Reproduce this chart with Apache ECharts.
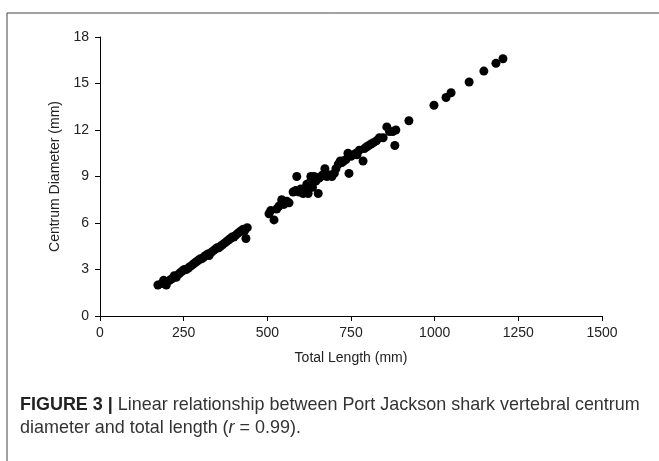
<!DOCTYPE html>
<html><head><meta charset="utf-8">
<script src="https://cdn.jsdelivr.net/npm/echarts@6/dist/echarts.min.js"></script>
<style>html,body{margin:0;padding:0;background:#fff}#c{width:659px;height:461px}</style>
</head><body><div id="c"></div>
<script>
const xTicks = [0, 250, 500, 750, 1000, 1250, 1500];
const yTicks = [0, 3, 6, 9, 12, 15, 18];
const totalLength = [
173,185,190,198,200,208,215,222,228,235,240,246,252,258,264,270,276,282,288,294,300,305,310,316,322,326,332,338,344,350,355,360,366,372,378,384,390,395,400,405,410,416,422,428,432,436,440,
505,510,520,528,535,543,550,558,565,577,585,588,595,600,607,612,618,622,627,630,635,640,645,652,655,660,665,672,678,685,693,700,705,712,718,723,728,735,741,744,750,757,765,768,775,786,790,796,803,810,818,826,835,846,857,865,875,881,884,
923,998,1034,1049,1103,1147,1183,1204];
const centrumDiameter = [
2.0,2.1,2.3,2.0,2.2,2.3,2.4,2.6,2.5,2.7,2.8,2.9,3.0,3.0,3.1,3.2,3.3,3.4,3.5,3.6,3.7,3.7,3.8,3.9,4.0,3.9,4.1,4.2,4.3,4.4,4.4,4.5,4.6,4.7,4.8,4.9,5.0,5.1,5.1,5.2,5.3,5.4,5.5,5.6,5.5,5.0,5.7,
6.6,6.8,6.2,6.9,7.1,7.5,7.2,7.4,7.3,8.0,8.1,9.0,8.0,8.2,7.9,8.2,8.5,7.9,8.6,9.0,8.3,9.0,8.7,7.9,8.9,9.0,9.1,9.5,9.0,9.1,9.0,9.2,9.5,9.8,10.0,9.9,10.0,10.1,10.5,9.2,10.3,10.4,10.5,10.4,10.7,10.0,10.8,10.9,11.0,11.1,11.2,11.3,11.5,11.5,12.2,11.9,11.9,11.0,12.0,
12.6,13.6,14.1,14.4,15.1,15.8,16.3,16.6];
const xName = 'Total Length (mm)';
const yName = 'Centrum Diameter (mm)';
const captionBold = 'FIGURE 3 |';
const captionLine1 = ' Linear relationship between Port Jackson shark vertebral centrum';
const captionLine2 = 'diameter and total length (';
const captionR = 'r';
const captionEnd = ' = 0.99).';

const points = totalLength.map((x, i) => [x, centrumDiameter[i]]);
const chart = echarts.init(document.getElementById('c'));
const axisCommon = {
  axisLine: {show: true, lineStyle: {color: '#000', width: 1}},
  axisTick: {show: true, length: 5, lineStyle: {color: '#000'}},
  splitLine: {show: false},
  axisLabel: {color: '#222', fontSize: 14, fontFamily: 'Liberation Sans', margin: 10, formatter: v => String(v)},
  nameTextStyle: {color: '#222', fontSize: 14, fontFamily: 'Liberation Sans'}
};
const capFont = 'Liberation Sans';
chart.setOption({
  animation: false,
  grid: {left: 100, right: 57, top: 37, bottom: 145},
  xAxis: Object.assign({}, axisCommon, {
    type: 'value', min: xTicks[0], max: xTicks[xTicks.length-1], interval: 250,
    name: xName, nameLocation: 'middle', nameGap: 35
  }),
  yAxis: Object.assign({}, axisCommon, {
    type: 'value', min: yTicks[0], max: yTicks[yTicks.length-1], interval: 3,
    name: yName, nameLocation: 'middle', nameGap: 30,
    axisLabel: Object.assign({}, axisCommon.axisLabel, {margin: 11})
  }),
  series: [{
    type: 'scatter', data: points, symbolSize: 9,
    itemStyle: {color: '#000', opacity: 1}
  }],
  graphic: [
    {type: 'rect', shape: {x: 7, y: 13, width: 700, height: 500}, style: {fill: 'none', stroke: '#444', lineWidth: 1}, silent: true},
    {type: 'text', x: 20, y: 393, scaleX: 0.945, style: {
      rich: {b: {fontWeight: 'bold', fontFamily: capFont, fontSize: 19, fill: '#222', lineHeight: 23},
             n: {fontFamily: capFont, fontSize: 19, fill: '#333', lineHeight: 23},
             i: {fontFamily: capFont, fontSize: 19, fontStyle: 'italic', fill: '#333', lineHeight: 23}},
      text: '{b|' + captionBold + '}{n|' + captionLine1 + '}\n{n|' + captionLine2 + '}{i|' + captionR + '}{n|' + captionEnd + '}'
    }}
  ]
});
</script></body></html>
